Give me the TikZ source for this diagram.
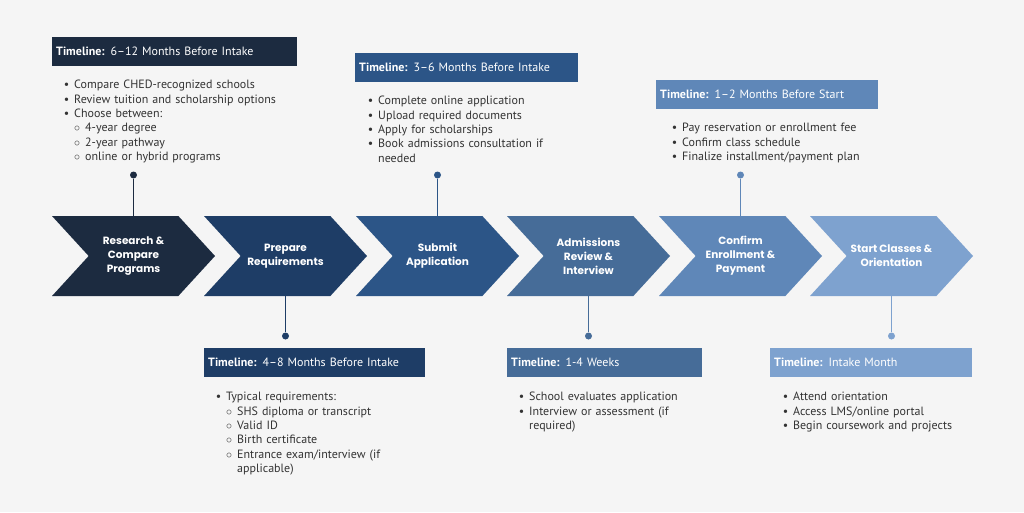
\documentclass[tikz,border=0pt]{standalone}
\usepackage{fontspec}
\setmainfont{PT Sans}
\newfontfamily\headfont{Poppins}
\usepackage{enumitem}
\usetikzlibrary{shapes.symbols,positioning}
\definecolor{bgc}{HTML}{F5F5F5}
\definecolor{txc}{HTML}{333333}
\definecolor{cA}{HTML}{1C2B40}
\definecolor{cB}{HTML}{1E3D66}
\definecolor{cC}{HTML}{2C5587}
\definecolor{cD}{HTML}{466C98}
\definecolor{cE}{HTML}{5F87B8}
\definecolor{cF}{HTML}{7EA2CF}
\setlist[itemize]{nosep,leftmargin=12pt,label=\textbullet}
\setlist[itemize,2]{leftmargin=11pt,label=$\circ$}
\begin{document}
\begin{tikzpicture}[x=1pt,y=-1pt,
    step/.style={signal, signal from=west, signal to=east, signal pointer angle=95,
      fill=#1, draw=none, minimum width=163pt, minimum height=80pt, inner sep=0pt,
      text=white, align=center, font=\headfont\fontsize{10.5}{14}\selectfont\bfseries},
    tbox/.style={fill=#1, text=white, anchor=north west, inner xsep=4pt, inner ysep=0pt,
      minimum height=29pt, font=\fontsize{12}{14}\selectfont},
    items/.style={anchor=north west, text=txc, text width=#1, inner sep=0pt,
      font=\fontsize{12}{14.4}\selectfont},
    dot/.style={circle, fill=#1, inner sep=0pt, minimum size=7pt},
    stem/.style={draw=#1, line width=1.6pt}
  ]
  \fill[bgc] (0,0) rectangle (1024,512);
  % chevrons
  \node[step=cA] (s1) at (133.5,256) {Research \&\\Compare\\Programs};
  \node[step=cB] (s2) at (285.5,256) {Prepare\\Requirements};
  \node[step=cC] (s3) at (437.5,256) {Submit\\Application};
  \node[step=cD] (s4) at (588.5,256) {Admissions\\Review \&\\Interview};
  \node[step=cE] (s5) at (740.5,256) {Confirm\\Enrollment \&\\Payment};
  \node[step=cF] (s6) at (891.5,256) {Start Classes \&\\Orientation};
  % stems
  \node[dot=cA] (d1) at (133.5,175) {};
  \node[dot=cB] (d2) at (285.5,336) {};
  \node[dot=cC] (d3) at (437.5,175) {};
  \node[dot=cD] (d4) at (588.5,336) {};
  \node[dot=cE] (d5) at (740.5,175) {};
  \node[dot=cF] (d6) at (891.5,336) {};
  \draw[stem=cA] (d1) -- (s1.north);
  \draw[stem=cB] (d2) -- (s2.south);
  \draw[stem=cC] (d3) -- (s3.north);
  \draw[stem=cD] (d4) -- (s4.south);
  \draw[stem=cE] (d5) -- (s5.north);
  \draw[stem=cF] (d6) -- (s6.south);
  % timeline boxes
  \node[tbox=cA, minimum width=245pt, text width=237pt] (t1) at (52,37) {\textbf{Timeline:} 6–12 Months Before Intake};
  \node[tbox=cB, minimum width=221pt, text width=213pt] (t2) at (204,348) {\textbf{Timeline:} 4–8 Months Before Intake};
  \node[tbox=cC, minimum width=223pt, text width=215pt] (t3) at (355,53) {\textbf{Timeline:} 3–6 Months Before Intake};
  \node[tbox=cD, minimum width=195pt, text width=187pt] (t4) at (507,348) {\textbf{Timeline:} 1-4 Weeks};
  \node[tbox=cE, minimum width=222pt, text width=214pt] (t5) at (656,80) {\textbf{Timeline:} 1–2 Months Before Start};
  \node[tbox=cF, minimum width=202pt, text width=194pt] (t6) at (770,348) {\textbf{Timeline:} Intake Month};
  % lists
  \node[items=240pt] (l1) at (62,74) {\begin{itemize}
    \item Compare CHED-recognized schools
    \item Review tuition and scholarship options
    \item Choose between:
      \begin{itemize}
      \item 4-year degree
      \item 2-year pathway
      \item online or hybrid programs
      \end{itemize}
    \end{itemize}};
  \node[items=220pt] (l2) at (214,386) {\begin{itemize}
    \item Typical requirements:
      \begin{itemize}
      \item SHS diploma or transcript
      \item Valid ID
      \item Birth certificate
      \item Entrance exam/interview (if\\applicable)
      \end{itemize}
    \end{itemize}};
  \node[items=220pt] (l3) at (366,90) {\begin{itemize}
    \item Complete online application
    \item Upload required documents
    \item Apply for scholarships
    \item Book admissions consultation if\\needed
    \end{itemize}};
  \node[items=200pt] (l4) at (517,386) {\begin{itemize}
    \item School evaluates application
    \item Interview or assessment (if\\required)
    \end{itemize}};
  \node[items=220pt] (l5) at (670,117) {\begin{itemize}
    \item Pay reservation or enrollment fee
    \item Confirm class schedule
    \item Finalize installment/payment plan
    \end{itemize}};
  \node[items=210pt] (l6) at (781,386) {\begin{itemize}
    \item Attend orientation
    \item Access LMS/online portal
    \item Begin coursework and projects
    \end{itemize}};
\end{tikzpicture}
\end{document}
